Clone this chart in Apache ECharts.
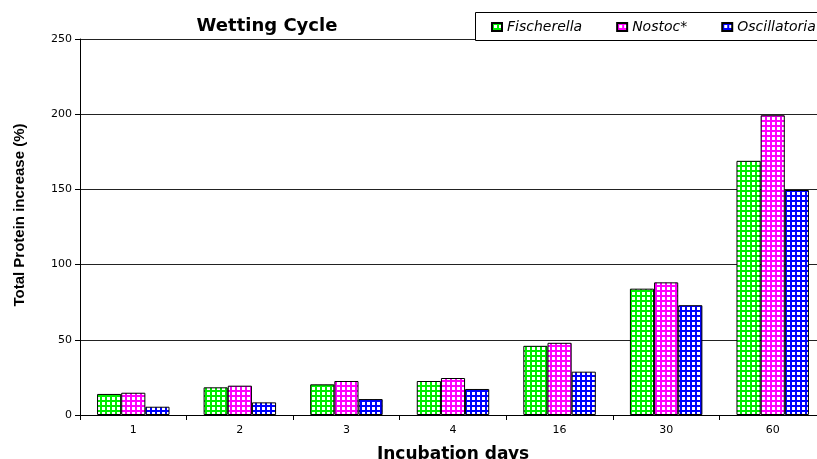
<!DOCTYPE html>
<html>
<head>
<meta charset="utf-8">
<script src="https://cdn.jsdelivr.net/npm/echarts@6/dist/echarts.min.js"></script>
<style>html,body{margin:0;padding:0;background:#fff;}#c{width:817px;height:459px;}</style>
</head>
<body>
<div id="c"></div>
<script>
var categories = ['1', '2', '3', '4', '16', '30', '60'];
var seriesNames = ['Fischerella', 'Nostoc*', 'Oscillatoria'];
var fischerella = [14, 18.4, 20.4, 22.6, 46, 84, 169];
var nostoc = [14.8, 19.5, 22.6, 24.6, 48, 88.2, 199.3];
var oscillatoria = [5.5, 8.4, 10.6, 17.3, 28.8, 73, 149.6];
var yTicks = [0, 50, 100, 150, 200, 250];
var colors = ['#00ee00', '#ff00ff', '#0000ff'];

function makePattern(col) {
  var cv = document.createElement('canvas');
  cv.width = 5; cv.height = 5;
  var ctx = cv.getContext('2d');
  ctx.fillStyle = '#ffffff';
  ctx.fillRect(0, 0, 5, 5);
  ctx.fillStyle = col;
  ctx.fillRect(0, 0, 2, 5);
  ctx.fillRect(0, 0, 5, 2);
  return {image: cv, repeat: 'repeat'};
}

var chart = echarts.init(document.getElementById('c'), null, {renderer: 'canvas'});
var font = 'DejaVu Sans, Liberation Sans, sans-serif';
var dataSets = [fischerella, nostoc, oscillatoria];
var series = dataSets.map(function (d, i) {
  return {
    name: seriesNames[i],
    type: 'bar',
    data: d,
    barGap: '0%',
    barCategoryGap: '32%',
    itemStyle: {color: makePattern(colors[i]), borderColor: '#000', borderWidth: 1},
    emphasis: {disabled: true},
    animation: false
  };
});

chart.setOption({
  animation: false,
  textStyle: {fontFamily: font},
  title: {
    text: 'Wetting Cycle',
    left: 262, top: 12, textAlign: 'center',
    textStyle: {fontSize: 18, fontWeight: 'bold', color: '#000', fontFamily: font}
  },
  graphic: [{
    type: 'rect', shape: {x: 475.5, y: 12.5, width: 350, height: 28},
    style: {fill: '#fff', stroke: '#000', lineWidth: 1}, z: 10
  }, {
    type: 'text', x: 20, y: 215, rotation: Math.PI / 2,
    style: {
      text: 'Total Protein increase (%)', fill: '#000',
      font: 'bold 15px "Liberation Sans", Arial, sans-serif',
      align: 'center', verticalAlign: 'middle'
    }
  }],
  legend: {
    left: 491, top: 20, z: 20, width: 400, padding: 0,
    itemWidth: 10, itemHeight: 8, itemGap: 34,
    icon: 'rect',
    textStyle: {fontSize: 14, fontStyle: 'italic', color: '#000', fontFamily: font},
    data: seriesNames
  },
  grid: {left: 80, width: 746, top: 39, height: 376, outerBoundsMode: 'none', containLabel: false},
  xAxis: {
    type: 'category',
    data: categories,
    name: 'Incubation days',
    nameLocation: 'middle',
    nameGap: 31,
    nameTextStyle: {fontSize: 17, fontWeight: 'bold', color: '#000', fontFamily: font},
    axisLine: {lineStyle: {color: '#000', width: 1}},
    axisTick: {show: true, length: 5, lineStyle: {color: '#000'}},
    axisLabel: {fontSize: 11, color: '#000', margin: 10, fontFamily: font},
    splitLine: {show: false}
  },
  yAxis: {
    type: 'value',
    min: yTicks[0], max: yTicks[yTicks.length - 1], interval: 50,
    axisLine: {show: true, lineStyle: {color: '#000', width: 1}},
    axisTick: {show: true, length: 5, inside: false, lineStyle: {color: '#000'}},
    axisLabel: {fontSize: 11, color: '#000', margin: 8, fontFamily: font},
    splitLine: {show: true, lineStyle: {color: '#222', width: 1}}
  },
  series: series
});
</script>
</body>
</html>
